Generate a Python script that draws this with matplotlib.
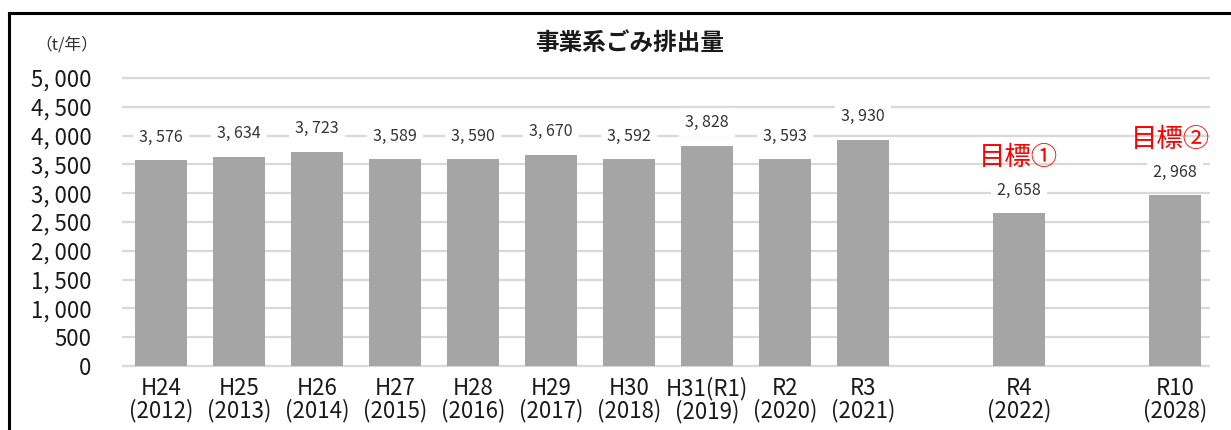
import matplotlib
matplotlib.use("Agg")
import matplotlib.pyplot as plt
from matplotlib.lines import Line2D

plt.rcParams['font.family'] = ['Noto Sans CJK JP', 'DejaVu Sans']

categories = ["H24\n(2012)", "H25\n(2013)", "H26\n(2014)", "H27\n(2015)", "H28\n(2016)",
              "H29\n(2017)", "H30\n(2018)", "H31(R1)\n(2019)", "R2\n(2020)", "R3\n(2021)",
              "R4\n(2022)", "R10\n(2028)"]
values = [3576, 3634, 3723, 3589, 3590, 3670, 3592, 3828, 3593, 3930, 2658, 2968]
slots = [0, 1, 2, 3, 4, 5, 6, 7, 8, 9, 11, 13]
target_labels = {10: "目標①", 11: "目標②"}
yticks = [0, 500, 1000, 1500, 2000, 2500, 3000, 3500, 4000, 4500, 5000]

W, H = 1231, 430
fig = plt.figure(figsize=(W / 100, H / 100), dpi=100)
ax = fig.add_axes([122 / W, 1 - 366 / H, (1210 - 122) / W, (366 - 78) / H])

ax.bar(slots, values, width=0.67, color="#a5a5a5", zorder=2)

ax.set_xlim(-0.5, 13.45)
ax.set_ylim(0, 5000)
ax.hlines(yticks, -0.5, 13.45, colors="#d9d9d9", linewidth=1.6, zorder=0, clip_on=False)

for s in ax.spines.values():
    s.set_visible(False)
ax.set_yticks(yticks)
ax.set_yticklabels([f"{v:,}".replace(",", ", ") for v in yticks], fontsize=16, color="#1a1a1a")
ax.tick_params(axis='y', length=0, pad=22)
ax.set_xticks(slots)
ax.set_xticklabels(categories, fontsize=16, linespacing=0.95, color="#1a1a1a")
ax.tick_params(axis='x', length=0, pad=8)

for i, (s, v) in enumerate(zip(slots, values)):
    ax.annotate(f"{v:,}".replace(",", ", "), (s, v), xytext=(0, 16.5), textcoords="offset points",
                ha="center", va="center", fontsize=11.5, color="#333333", zorder=3,
                bbox=dict(boxstyle="square,pad=0.4", fc="white", ec="none"))
    if i in target_labels:
        ax.annotate(target_labels[i], (s, v), xytext=(-3 if i == 11 else 0, 40), textcoords="offset points",
                    ha="center", va="center", fontsize=19, color="#ff0000", zorder=3)

fig.text(630 / W, 1 - 43 / H, "事業系ごみ排出量", ha="center", va="center", fontsize=17, fontweight="bold",
         color="#1a1a1a")
fig.text(67 / W, 1 - 45 / H, "（t/年）", ha="center", va="center", fontsize=12, color="#333333")

fig.add_artist(Line2D([9 / W, 9 / W], [0, 1 - 13 / H], color="black", linewidth=2.2))
fig.add_artist(Line2D([9 / W, 1], [1 - 13 / H, 1 - 13 / H], color="black", linewidth=2.2))

fig.savefig("out.png", dpi=100, facecolor="white")
